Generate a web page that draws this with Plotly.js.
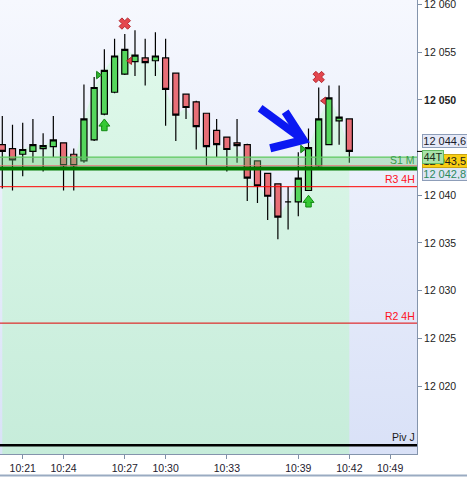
<!DOCTYPE html>
<html><head><meta charset="utf-8">
<script src="https://cdn.plot.ly/plotly-3.0.1.min.js"></script>
<style>html,body{margin:0;padding:0;background:#fff;overflow:hidden}#chart{width:467px;height:477px}</style>
</head><body><div id="chart"></div>
<script>
// ---- candle data (one candle per bar index) ----
const openP  = [12045.3,12044.9,12044.3,12044.6,12044.9,12045.1,12045.5,12044.3,12043.6,12045.8,12048.5,12050.8,12052.7,12054.0,12054.4,12054.1,12054.4,12052.8,12050.6,12049.8,12048.6,12046.8,12046.1,12045.5,12045.3,12043.6,12042.3,12041.2,12039.3,12039.3,12040.5,12043.1,12045.3,12047.8,12048.0];
const highP  = [12048.3,12047.4,12047.6,12048.0,12046.5,12048.3,12045.5,12044.9,12051.6,12052.4,12055.3,12056.4,12056.9,12057.3,12056.4,12057.1,12056.4,12052.8,12050.6,12049.9,12048.6,12048.0,12046.1,12048.0,12045.4,12043.6,12042.3,12041.2,12040.9,12044.5,12047.0,12051.3,12051.5,12051.5,12048.0];
const lowP   = [12040.7,12040.5,12042.0,12043.4,12042.5,12044.0,12040.5,12040.5,12043.4,12045.7,12048.4,12050.7,12052.6,12052.5,12051.5,12052.5,12047.3,12045.7,12048.0,12044.8,12043.1,12044.0,12042.5,12043.4,12039.4,12039.2,12037.4,12035.4,12036.4,12037.8,12040.5,12043.0,12045.3,12045.3,12043.4];
const closeP = [12044.6,12043.7,12044.8,12045.3,12045.2,12045.8,12043.1,12043.1,12048.0,12051.3,12053.1,12054.6,12055.3,12054.7,12053.9,12054.6,12051.1,12048.4,12049.2,12047.2,12045.1,12045.3,12044.8,12045.2,12041.8,12041.0,12039.9,12037.7,12039.3,12041.8,12045.0,12048.0,12050.2,12048.2,12044.6];

// ---- axis labels ----
const tickIdx    = [2, 6, 12, 16, 22, 29, 34, 38];
const tickLabels = ['10:21','10:24','10:27','10:30','10:33','10:39','10:42','10:49'];
const priceTicks = [12020, 12025, 12030, 12035, 12040, 12050, 12055, 12060];
const boldTick   = 12050;

// ---- signals ----
const sellIdx  = [12, 31];       const sellPrice  = [12058.0, 12052.4];
const buyIdx   = [10, 30];       const buyPrice   = [12048.0, 12040.0];
const entryIdx = [9.4, 29.4];    const entryPrice = [12052.6, 12044.85];
const exitIdx  = [12.5, 31.5];   const exitPrice  = [12054.1, 12049.9];

// ---- levels ----
const levelNames  = ['S1 M', 'R3 4H', 'R2 4H', 'Piv J'];
const levelValues = [12044.0, 12040.9, 12026.6, 12013.8];
const bandLow     = 12043.1;
const mainLevel   = 12042.8;

// ---- price boxes ----
const lastPrice = 12044.6, curPrice = 12043.5, tickCount = '44T';

// ---- hand-drawn arrow (index, price) ----
const drawX = [27.72, 29.51, 26.25, null, 25.26, 29.51];
const drawY = [12048.76, 12045.8, 12044.93, null, 12049.12, 12045.8];

const xRange = [-0.225, 40.63];
const yRange = [12012.88, 12060.47];
const plotH = 454;
const ppu = plotH / (yRange[1] - yRange[0]);

function fmt(v, dec) {
  const s = v.toFixed(dec);
  const parts = s.split('.');
  const i = parts[0];
  const g = i.slice(0, i.length - 3) + ' ' + i.slice(-3);
  return dec ? g + ',' + parts[1] : g;
}

const idx = closeP.map((_, i) => i);
const FONT = 'Liberation Sans, Arial, sans-serif';

const traces = [
  { type: 'scatter', x: [xRange[0], xRange[1], xRange[1], xRange[0]], y: [yRange[1], yRange[1], yRange[0], yRange[0]],
    mode: 'none', fill: 'toself', hoverinfo: 'skip', showlegend: false,
    fillgradient: { type: 'vertical', colorscale: [[0, '#d9e1f7'], [1, '#f6f8fe']], start: yRange[0], stop: yRange[1] } },
  { type: 'scatter', x: idx, y: closeP, mode: 'none', fill: 'tozeroy', hoverinfo: 'skip', showlegend: false,
    fillgradient: { type: 'vertical', colorscale: [[0, '#c6ecda'], [1, '#e2faec']], start: yRange[0], stop: yRange[1] } },
  { type: 'candlestick', x: idx, open: openP, high: highP, low: lowP, close: closeP,
    xaxis: 'x2', yaxis: 'y2', showlegend: false, whiskerwidth: 0,
    increasing: { line: { color: '#000', width: 1.2 }, fillcolor: '#55d65c' },
    decreasing: { line: { color: '#000', width: 1.2 }, fillcolor: '#e86e77' } },
  { type: 'scatter', x: sellIdx, y: sellPrice, mode: 'markers', xaxis: 'x2', yaxis: 'y2', showlegend: false,
    marker: { symbol: 'x', size: 10, color: '#e4464e', line: { color: '#b52a31', width: 1 } } },
  { type: 'scatter', x: buyIdx, y: buyPrice.map(v => v - 9 / ppu), mode: 'markers', xaxis: 'x2', yaxis: 'y2', showlegend: false,
    marker: { symbol: 'square', size: 5.5, color: '#35c935', line: { color: '#138a13', width: 1 } } },
  { type: 'scatter', x: buyIdx, y: buyPrice.map(v => v - 4.75 / ppu), mode: 'markers', xaxis: 'x2', yaxis: 'y2', showlegend: false,
    marker: { symbol: 'triangle-up', size: 9.5, color: '#35c935', line: { color: '#138a13', width: 1 } } },
  { type: 'scatter', x: buyIdx, y: buyPrice.map(v => v - 7.3 / ppu), mode: 'markers', xaxis: 'x2', yaxis: 'y2', showlegend: false,
    marker: { symbol: 'square', size: 3.6, color: '#35c935', line: { width: 0 } } },
  { type: 'scatter', x: entryIdx, y: entryPrice, mode: 'markers', xaxis: 'x2', yaxis: 'y2', showlegend: false,
    marker: { symbol: 'triangle-right', size: 6.5, color: '#2fb52f', line: { color: '#177a17', width: 1 } } },
  { type: 'scatter', x: exitIdx, y: exitPrice, mode: 'markers', xaxis: 'x2', yaxis: 'y2', showlegend: false,
    marker: { symbol: 'triangle-left', size: 6.5, color: '#e4464e', line: { color: '#a3282e', width: 1 } } },
  { type: 'scatter', x: drawX, y: drawY, mode: 'lines', xaxis: 'x2', yaxis: 'y2', showlegend: false, hoverinfo: 'skip',
    line: { color: '#0b18f2', width: 8 } }
];

const lineColors = ['#5fc95f', '#ff0000', '#e00000', '#000000'];
const lineWidths = [1.2, 1, 1, 2.5];
const textColors = ['#3a9a4a', '#ff1020', '#ff1020', '#1a1a1a'];

const shapes = [
  { type: 'rect', xref: 'paper', x0: 0, x1: 1, yref: 'y', y0: bandLow, y1: levelValues[0],
    fillcolor: 'rgba(110,200,120,0.38)', line: { width: 0 }, layer: 'above' },
  { type: 'line', xref: 'paper', x0: 0, x1: 1, yref: 'y', y0: bandLow, y1: bandLow,
    line: { color: '#e07878', width: 1 }, layer: 'above' },
  { type: 'line', xref: 'paper', x0: 0, x1: 1, yref: 'y', y0: mainLevel, y1: mainLevel,
    line: { color: '#007a00', width: 4 }, layer: 'above' },
  { type: 'line', xref: 'paper', x0: 1, x1: 1.012, yref: 'y', y0: lastPrice, y1: lastPrice,
    line: { color: '#000', width: 1 }, layer: 'above' },
  { type: 'line', xref: 'paper', x0: 0, x1: 1.2, yref: 'paper', y0: -0.0474, y1: -0.0474,
    line: { color: '#9aabc2', width: 2 }, layer: 'above' }
];
levelValues.forEach((v, i) => shapes.push({
  type: 'line', xref: 'paper', x0: 0, x1: 1, yref: 'y', y0: v, y1: v,
  line: { color: lineColors[i], width: lineWidths[i] }, layer: 'above' }));

const annotations = levelNames.map((n, i) => ({
  text: n, xref: 'paper', x: 1, xanchor: 'right', xshift: 0,
  yref: 'y', y: i === 0 ? bandLow : levelValues[i], yanchor: 'bottom', yshift: i === 0 ? -2 : (i === 3 ? 0 : -0.5),
  showarrow: false, font: { family: FONT, size: 10.5, color: textColors[i] }, borderpad: 1
}));

function box(text, v, shift, bg, border, color, w) {
  return { text: text, xref: 'paper', x: 1, xanchor: 'left', xshift: 4.5, yref: 'y', y: v, yanchor: 'middle', yshift: shift,
    showarrow: false, bgcolor: bg, bordercolor: border, borderwidth: 1, borderpad: 0.5, width: w, height: 10.5,
    font: { family: FONT, size: 11, color: color } };
}
annotations.push(box(fmt(mainLevel, 1), mainLevel, -5.5, '#dde5f5', '#8d9db8', '#2c8a5c', 42.5));
annotations.push(box(fmt(curPrice, 1), curPrice, 0.5, '#f9cd12', '#c9a412', '#1a1a1a', 42.5));
annotations.push(box(tickCount, curPrice, 5.3, '#a9e2a9', '#62b862', '#1b2e1b', 19));
annotations.push(box(fmt(lastPrice, 1), lastPrice, 10.3, '#e5e9f8', '#8d9db8', '#1a1a2a', 42.5));

const layout = {
  width: 467, height: 477,
  margin: { l: 0, r: 50, t: 0, b: 23, pad: 0 },
  paper_bgcolor: '#ffffff', plot_bgcolor: '#f0f3fc',
  showlegend: false, hovermode: false, boxgap: 0.15,
  xaxis: { range: xRange, tickvals: tickIdx, ticktext: tickLabels, ticks: 'outside', ticklen: 4, tickcolor: '#7f8fa6',
    showline: true, linecolor: '#8494ac', linewidth: 1, showgrid: false, zeroline: false, fixedrange: true,
    tickfont: { family: FONT, size: 10.5, color: '#1e1a2e' }, rangeslider: { visible: false } },
  yaxis: { range: yRange, side: 'right', tickvals: priceTicks,
    ticktext: priceTicks.map(v => v === boldTick ? '<b>' + fmt(v, 0) + '</b>' : fmt(v, 0)),
    ticks: 'outside', ticklen: 4, tickcolor: '#7f8fa6', showline: true, linecolor: '#8494ac', linewidth: 1,
    showgrid: false, zeroline: false, fixedrange: true, ticklabeloverflow: 'allow',
    tickfont: { family: FONT, size: 10.5, color: '#222222' } },
  xaxis2: { range: xRange, overlaying: 'x', visible: false, fixedrange: true, rangeslider: { visible: false } },
  yaxis2: { range: yRange, overlaying: 'y', visible: false, fixedrange: true },
  shapes: shapes, annotations: annotations
};

Plotly.newPlot('chart', traces, layout, { staticPlot: true, displayModeBar: false });
</script>
</body></html>
